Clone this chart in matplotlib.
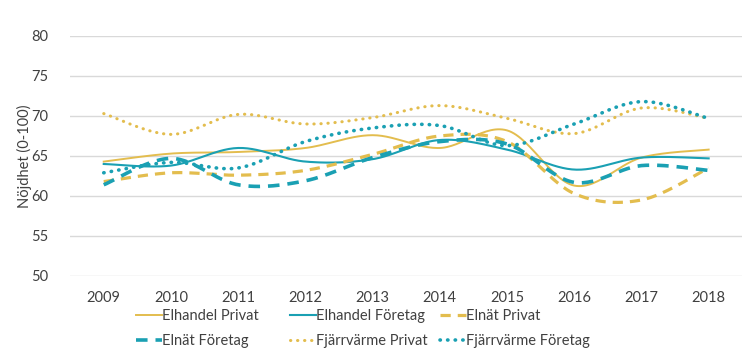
import numpy as np
import matplotlib
matplotlib.use("Agg")
import matplotlib.pyplot as plt

years = [2009, 2010, 2011, 2012, 2013, 2014, 2015, 2016, 2017, 2018]
elhandel_privat = [64.3, 65.3, 65.5, 66.0, 67.6, 66.0, 68.2, 61.3, 64.8, 65.8]
elhandel_foretag = [64.0, 63.8, 66.0, 64.3, 64.6, 67.0, 65.8, 63.3, 64.8, 64.7]
elnat_privat = [61.8, 62.9, 62.6, 63.2, 65.2, 67.5, 66.8, 60.3, 59.5, 63.5]
elnat_foretag = [61.4, 64.7, 61.4, 61.9, 64.8, 66.8, 66.5, 61.7, 63.8, 63.2]
fjarr_privat = [70.3, 67.7, 70.2, 69.0, 69.8, 71.3, 69.7, 67.8, 71.0, 69.7]
fjarr_foretag = [62.9, 64.2, 63.5, 66.8, 68.5, 68.8, 66.3, 69.0, 71.8, 69.7]
yticks = [50, 55, 60, 65, 70, 75, 80]

GOLD = "#E3BD4E"
TEAL = "#1AA0B3"

plt.rcParams['font.family'] = ['Lato', 'DejaVu Sans']


def smooth(xv, yv, n=30):
    x = np.asarray(xv, float)
    y = np.asarray(yv, float)
    xs, ys = [], []
    N = len(x)
    for i in range(N - 1):
        i0 = max(i - 1, 0)
        i3 = min(i + 2, N - 1)
        p0 = np.array([x[i0], y[i0]])
        p1 = np.array([x[i], y[i]])
        p2 = np.array([x[i + 1], y[i + 1]])
        p3 = np.array([x[i3], y[i3]])
        c1 = p1 + (p2 - p0) / 6.0
        c2 = p2 - (p3 - p1) / 6.0
        t = np.linspace(0, 1, n)[:, None]
        pts = ((1 - t) ** 3) * p1 + 3 * ((1 - t) ** 2) * t * c1 + 3 * (1 - t) * t ** 2 * c2 + t ** 3 * p2
        if i > 0:
            pts = pts[1:]
        xs.append(pts[:, 0])
        ys.append(pts[:, 1])
    return np.concatenate(xs), np.concatenate(ys)


W, H = 746, 362
fig = plt.figure(figsize=(W / 100, H / 100), dpi=100)
ax = fig.add_axes([0.094, 0.2376, 0.901, 0.663])

idx = np.arange(len(years))
series = [
    ("Elhandel Privat", elhandel_privat, GOLD, dict(linestyle='-', linewidth=1.4)),
    ("Elhandel Företag", elhandel_foretag, TEAL, dict(linestyle='-', linewidth=1.5)),
    ("Elnät Privat", elnat_privat, GOLD, dict(linestyle=(0, (3.2, 2.2)), linewidth=2.3)),
    ("Elnät Företag", elnat_foretag, TEAL, dict(linestyle=(0, (3.2, 2.2)), linewidth=2.6)),
    ("Fjärrvärme Privat", fjarr_privat, GOLD, dict(linestyle=(0, (0.1, 2.2)), linewidth=2.2, dash_capstyle='round')),
    ("Fjärrvärme Företag", fjarr_foretag, TEAL, dict(linestyle=(0, (0.1, 2.0)), linewidth=2.6, dash_capstyle='round')),
]
handles = []
for name, vals, col, st in series:
    sx, sy = smooth(idx, vals)
    h, = ax.plot(sx, sy, color=col, label=name, **st)
    handles.append(h)

ax.set_xlim(-0.5, len(years) - 0.5)
ax.set_ylim(50, 80)
ax.set_yticks(yticks)
ax.set_xticks(idx)
ax.set_xticklabels([str(y) for y in years])
ax.grid(axis='y', color='#D9D9D9', linewidth=1)
ax.set_axisbelow(True)
for s in ax.spines.values():
    s.set_visible(False)
ax.tick_params(length=0, labelsize=10.5, colors='#404040', pad=16)
ax.tick_params(axis='x', pad=11)
ax.set_ylabel("Nöjdhet (0-100)", fontsize=10.5, color='#404040')
ax.yaxis.set_label_coords(-0.057, 0.5)

# legend entries laid out in two rows, three columns (pixel anchors of each entry)
col_x = [136, 290, 440]
row_y = [316, 341]
common = dict(frameon=False, fontsize=10.5, handlelength=1.75, handletextpad=0.05,
              labelcolor='#404040', borderaxespad=0, borderpad=0)
for k, h in enumerate(handles):
    r, c = divmod(k, 3)
    fig.legend(handles=[h], loc='center left',
               bbox_to_anchor=(col_x[c] / W, 1 - row_y[r] / H), **common)

fig.savefig("out.png", dpi=100)
